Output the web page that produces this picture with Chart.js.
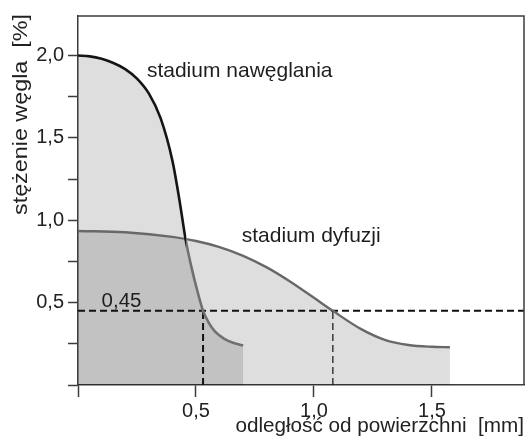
<!DOCTYPE html>
<html lang="pl">
<head>
<meta charset="utf-8">
<title>Stężenie węgla w warstwie nawęglanej</title>
<script src="https://cdn.jsdelivr.net/npm/chart.js@4/dist/chart.umd.min.js"></script>
<style>
  html, body { margin: 0; padding: 0; background: #ffffff; }
  #wrap { width: 526px; height: 439px; }
</style>
</head>
<body>
<div id="wrap"><canvas id="chart" width="526" height="439"></canvas></div>
<script>
// Carburizing stage profile: distance [mm] and carbon content [%]
const carbX = [0, 0.05, 0.1, 0.15, 0.2, 0.25, 0.3, 0.35, 0.4, 0.43, 0.456, 0.48, 0.505, 0.53, 0.555, 0.58, 0.62, 0.66, 0.70];
const carbY = [2.0, 1.995, 1.98, 1.955, 1.918, 1.86, 1.77, 1.62, 1.362, 1.122, 0.884, 0.72, 0.575, 0.45, 0.375, 0.325, 0.28, 0.255, 0.24];

// Diffusion stage profile
const diffX = [0, 0.2, 0.4, 0.5, 0.6, 0.7, 0.8, 0.9, 1.0, 1.08, 1.2, 1.3, 1.4, 1.5, 1.576];
const diffY = [0.935, 0.927, 0.899, 0.874, 0.837, 0.784, 0.714, 0.627, 0.529, 0.45, 0.339, 0.274, 0.243, 0.232, 0.229];

// Depth where the two profiles cross (carburizing line turns grey below it)
const crossingX = 0.456;

// Reference carbon level and the depths where each profile reaches it
const levelValue = 0.45;
const crossX = [0.53, 1.08];

// Axis ticks and their labels
const xTicks = [0, 0.5, 1.0, 1.5];
const xTickLabels = ['', '0,5', '1,0', '1,5'];
const yTicks = [0, 0.25, 0.5, 0.75, 1.0, 1.25, 1.5, 1.75, 2.0];
const yTickLabels = ['', '', '0,5', '', '1,0', '', '1,5', '', '2,0'];

// Curve captions
const captionText = ['stadium nawęglania', 'stadium dyfuzji'];
const captionX = [0.292, 0.694];
const captionY = [1.87, 0.866];

const xMax = 1.89;
const yMax = 2.24;

const toPoints = (xs, ys) => xs.map((x, i) => ({ x: x, y: ys[i] }));
const FONT = '"Liberation Sans", Arial, sans-serif';
const fillGrey = 'rgba(0,0,0,0.13)';
const darkLine = '#151515';
const greyLine = '#707070';

// Dark stroke up to the crossing point, grey beyond it
function carbBorder(ctx) {
  const chart = ctx.chart;
  const a = chart.chartArea;
  if (!a) return darkLine;
  const px = chart.scales.x.getPixelForValue(crossingX);
  const f = Math.min(1, Math.max(0, (px - a.left) / (a.right - a.left)));
  const g = chart.ctx.createLinearGradient(a.left, 0, a.right, 0);
  g.addColorStop(0, darkLine);
  g.addColorStop(f, darkLine);
  g.addColorStop(f, greyLine);
  g.addColorStop(1, greyLine);
  return g;
}

const datasets = [
  {
    label: 'stadium nawęglania',
    data: toPoints(carbX, carbY),
    fill: 'origin',
    backgroundColor: fillGrey,
    borderColor: carbBorder,
    borderWidth: 2.6,
    cubicInterpolationMode: 'monotone',
    pointRadius: 0
  },
  {
    label: 'stadium dyfuzji',
    data: toPoints(diffX, diffY),
    fill: 'origin',
    backgroundColor: fillGrey,
    borderColor: '#686868',
    borderWidth: 2.4,
    cubicInterpolationMode: 'monotone',
    pointRadius: 0
  },
  {
    label: 'poziom',
    data: [{ x: 0, y: levelValue }, { x: xMax, y: levelValue }],
    fill: false,
    borderColor: '#111',
    borderWidth: 2,
    borderDash: [7, 4],
    pointRadius: 0
  }
];
crossX.forEach((cx, i) => {
  datasets.push({
    label: 'głębokość ' + (i + 1),
    data: [{ x: cx, y: 0 }, { x: cx, y: levelValue }],
    fill: false,
    borderColor: '#111',
    borderWidth: i === 0 ? 2 : 1.2,
    borderDash: [7, 4],
    pointRadius: 0
  });
});

// Frame on the top and right sides of the plot area
const framePlugin = {
  id: 'frame',
  afterDraw(chart) {
    const { ctx, chartArea: a } = chart;
    ctx.save();
    ctx.strokeStyle = '#3c3c3c';
    ctx.lineWidth = 1.5;
    ctx.beginPath();
    ctx.moveTo(a.left, a.top);
    ctx.lineTo(a.right, a.top);
    ctx.lineTo(a.right, a.bottom);
    ctx.stroke();
    ctx.restore();
  }
};

// Curve captions, the level value label and the vertical axis title
const captionPlugin = {
  id: 'captions',
  afterDatasetsDraw(chart) {
    const { ctx, scales } = chart;
    ctx.save();
    ctx.fillStyle = '#1e1e1e';
    ctx.textAlign = 'left';
    ctx.textBaseline = 'alphabetic';
    ctx.font = '21px ' + FONT;
    captionText.forEach((t, i) => {
      ctx.fillText(t, scales.x.getPixelForValue(captionX[i]), scales.y.getPixelForValue(captionY[i]));
    });
    ctx.font = '20.5px ' + FONT;
    const levelLabel = levelValue.toFixed(2).replace('.', ',');
    ctx.fillText(levelLabel, scales.x.getPixelForValue(0.10), scales.y.getPixelForValue(levelValue) - 4);
    ctx.restore();

    // y-axis title, reading upwards, spanning from 215 px to 14 px
    const title = 'stężenie węgla  [%]';
    ctx.save();
    ctx.fillStyle = '#222';
    ctx.font = '21px ' + FONT;
    const w = ctx.measureText(title).width;
    const span = 201;
    ctx.translate(27, 215);
    ctx.rotate(-Math.PI / 2);
    ctx.scale(span / w, 1);
    ctx.textAlign = 'left';
    ctx.textBaseline = 'alphabetic';
    ctx.fillText(title, 0, 0);
    ctx.restore();
  }
};

new Chart(document.getElementById('chart'), {
  type: 'line',
  data: { datasets: datasets },
  plugins: [framePlugin, captionPlugin],
  options: {
    responsive: false,
    animation: false,
    layout: { padding: { top: 12, right: 2, left: 0, bottom: 0 } },
    plugins: {
      legend: { display: false },
      tooltip: { enabled: false },
      filler: { drawTime: 'beforeDatasetsDraw' }
    },
    scales: {
      x: {
        type: 'linear',
        min: 0,
        max: xMax,
        afterFit(scale) { scale.height = 54; },
        afterBuildTicks(scale) { scale.ticks = xTicks.map(v => ({ value: v })); },
        ticks: {
          padding: 2,
          color: '#222',
          font: { family: FONT, size: 20 },
          callback: (v) => {
            const i = xTicks.indexOf(v);
            return i >= 0 ? xTickLabels[i] : '';
          }
        },
        grid: {
          drawOnChartArea: false,
          drawTicks: true,
          tickLength: 12,
          tickWidth: 1.5,
          tickColor: '#3c3c3c'
        },
        border: { display: true, color: '#3c3c3c', width: 1.5 },
        title: {
          display: true,
          text: 'odległość od powierzchni  [mm]',
          align: 'end',
          color: '#222',
          font: { family: FONT, size: 20.7 },
          padding: { top: 0, bottom: 0 }
        }
      },
      y: {
        type: 'linear',
        min: 0,
        max: yMax,
        afterFit(scale) { scale.width = 78; },
        afterBuildTicks(scale) { scale.ticks = yTicks.map(v => ({ value: v })); },
        ticks: {
          padding: 4,
          color: '#222',
          font: { family: FONT, size: 20 },
          callback: (v) => {
            const i = yTicks.indexOf(v);
            return i >= 0 ? yTickLabels[i] : '';
          }
        },
        grid: {
          drawOnChartArea: false,
          drawTicks: true,
          tickLength: 10,
          tickWidth: 1.5,
          tickColor: '#3c3c3c'
        },
        border: { display: true, color: '#3c3c3c', width: 1.5 }
      }
    }
  }
});
</script>
</body>
</html>
